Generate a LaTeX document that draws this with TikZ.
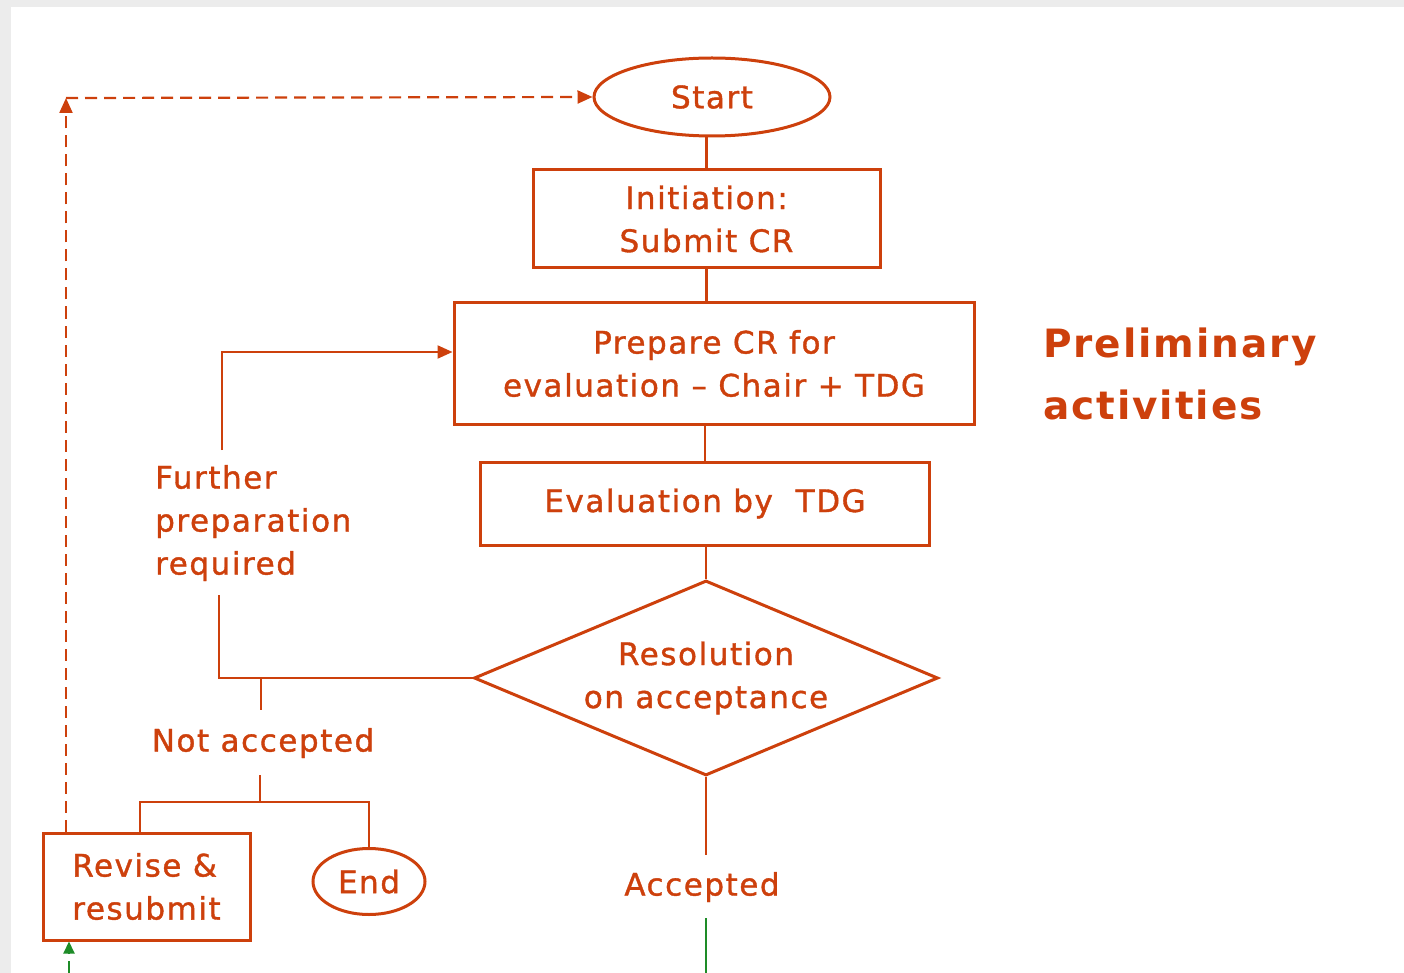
\documentclass[tikz,border=0pt]{standalone}
\usepackage{fontspec}
\setmainfont{DejaVu Sans}[LetterSpace=5,FakeBold=1.2]
\newfontfamily\titlefont{DejaVu Sans Bold}[LetterSpace=5]
\usetikzlibrary{shapes.geometric,arrows.meta}
\definecolor{org}{RGB}{205,64,12}
\definecolor{grn}{RGB}{30,140,40}
\definecolor{framegray}{RGB}{236,236,236}
\tikzset{
 lab/.style={text=org, font=\fontsize{31}{43}\selectfont, inner sep=0pt},
 box/.style={draw=org, line width=3pt, rectangle, lab},
 oval/.style={draw=org, line width=3pt, ellipse, lab},
 conn/.style={draw=org, line width=2.2pt},
 tip/.style={-{Triangle[length=15pt,width=13pt]}},
 dsh/.style={dash pattern=on 12pt off 7pt},
 gline/.style={draw=grn, line width=2.2pt},
}
\begin{document}
\begin{tikzpicture}[x=1pt,y=-1pt]
\useasboundingbox (0,0) rectangle (1404,973);
\fill[framegray] (0,0) rectangle (11,973);
\fill[framegray] (0,0) rectangle (1404,7);
% nodes
\node[oval, minimum width=236, minimum height=78] (start) at (712,97) {Start};
\node[box, minimum width=347, minimum height=98, align=center] (init) at (706.5,219) {Initiation:\\Submit CR};
\node[box, minimum width=520, minimum height=121, align=center] (prep) at (714,363.5) {Prepare CR for\\evaluation – Chair + TDG};
\node[box, minimum width=449, minimum height=83] (eval) at (705,503.5) {Evaluation by \ TDG};
\node[draw=org, line width=3pt, diamond, aspect=2.38, minimum width=464, minimum height=195, lab, align=center] (dia) at (706,678) {Resolution\\on acceptance};
\node[lab, align=left, anchor=west] (fp) at (155,523) {Further\\preparation\\required};
\node[lab] (na) at (263,743) {Not accepted};
\node[lab] (acc) at (702,887) {Accepted};
\node[box, minimum width=207, minimum height=107, align=left] (rev) at (146.5,886.5) {Revise \&\\resubmit};
\node[oval, minimum width=112, minimum height=66] (end) at (369,881.5) {End};
\node[text=org, font=\titlefont\fontsize{39}{62}\selectfont, align=left, anchor=west, inner sep=0pt] (pa) at (1043,374) {Preliminary\\activities};
% coordinates
\coordinate (fpb) at (219,595);
\coordinate (fpt) at (222,450);
\coordinate (y352) at (0,352);
\coordinate (na0) at (261,678);
\coordinate (na1) at (261,710);
\coordinate (na2) at (260,775);
\coordinate (split) at (260,802);
\coordinate (rx) at (140,0);
\coordinate (dx) at (66,0);
\coordinate (corner) at (66,98);
\coordinate (acc1) at (706,855);
\coordinate (acc2) at (706,918);
\coordinate (bot) at (706,973);
\coordinate (gb) at (69,973);
% connectors
\draw[conn] (init.north) -- (start.south -| init.north);
\draw[conn] (init.south) -- (prep.north -| init.south);
\draw[conn] (eval.north) -- (prep.south -| eval.north);
\draw[conn] (dia.north) -- (eval.south -| dia.north);
\draw[conn] (dia.west) -| (fpb);
\draw[conn,tip] (fpt) |- (prep.west |- y352);
\draw[conn] (na0) -- (na1);
\draw[conn] (na2) -- (split);
\draw[conn] (rev.north -| rx) |- (end.north |- split) -- (end.north);
\draw[conn,dsh,tip] (rev.north -| dx) -- (corner);
\draw[conn,dsh,tip] (corner) -- (start.west);
\draw[conn] (dia.south) -- (acc1);
\draw[gline] (acc2) -- (bot);
\draw[gline,dsh,-{Triangle[length=12pt,width=11pt]}] (gb) -- (rev.south -| gb);
\end{tikzpicture}
\end{document}
